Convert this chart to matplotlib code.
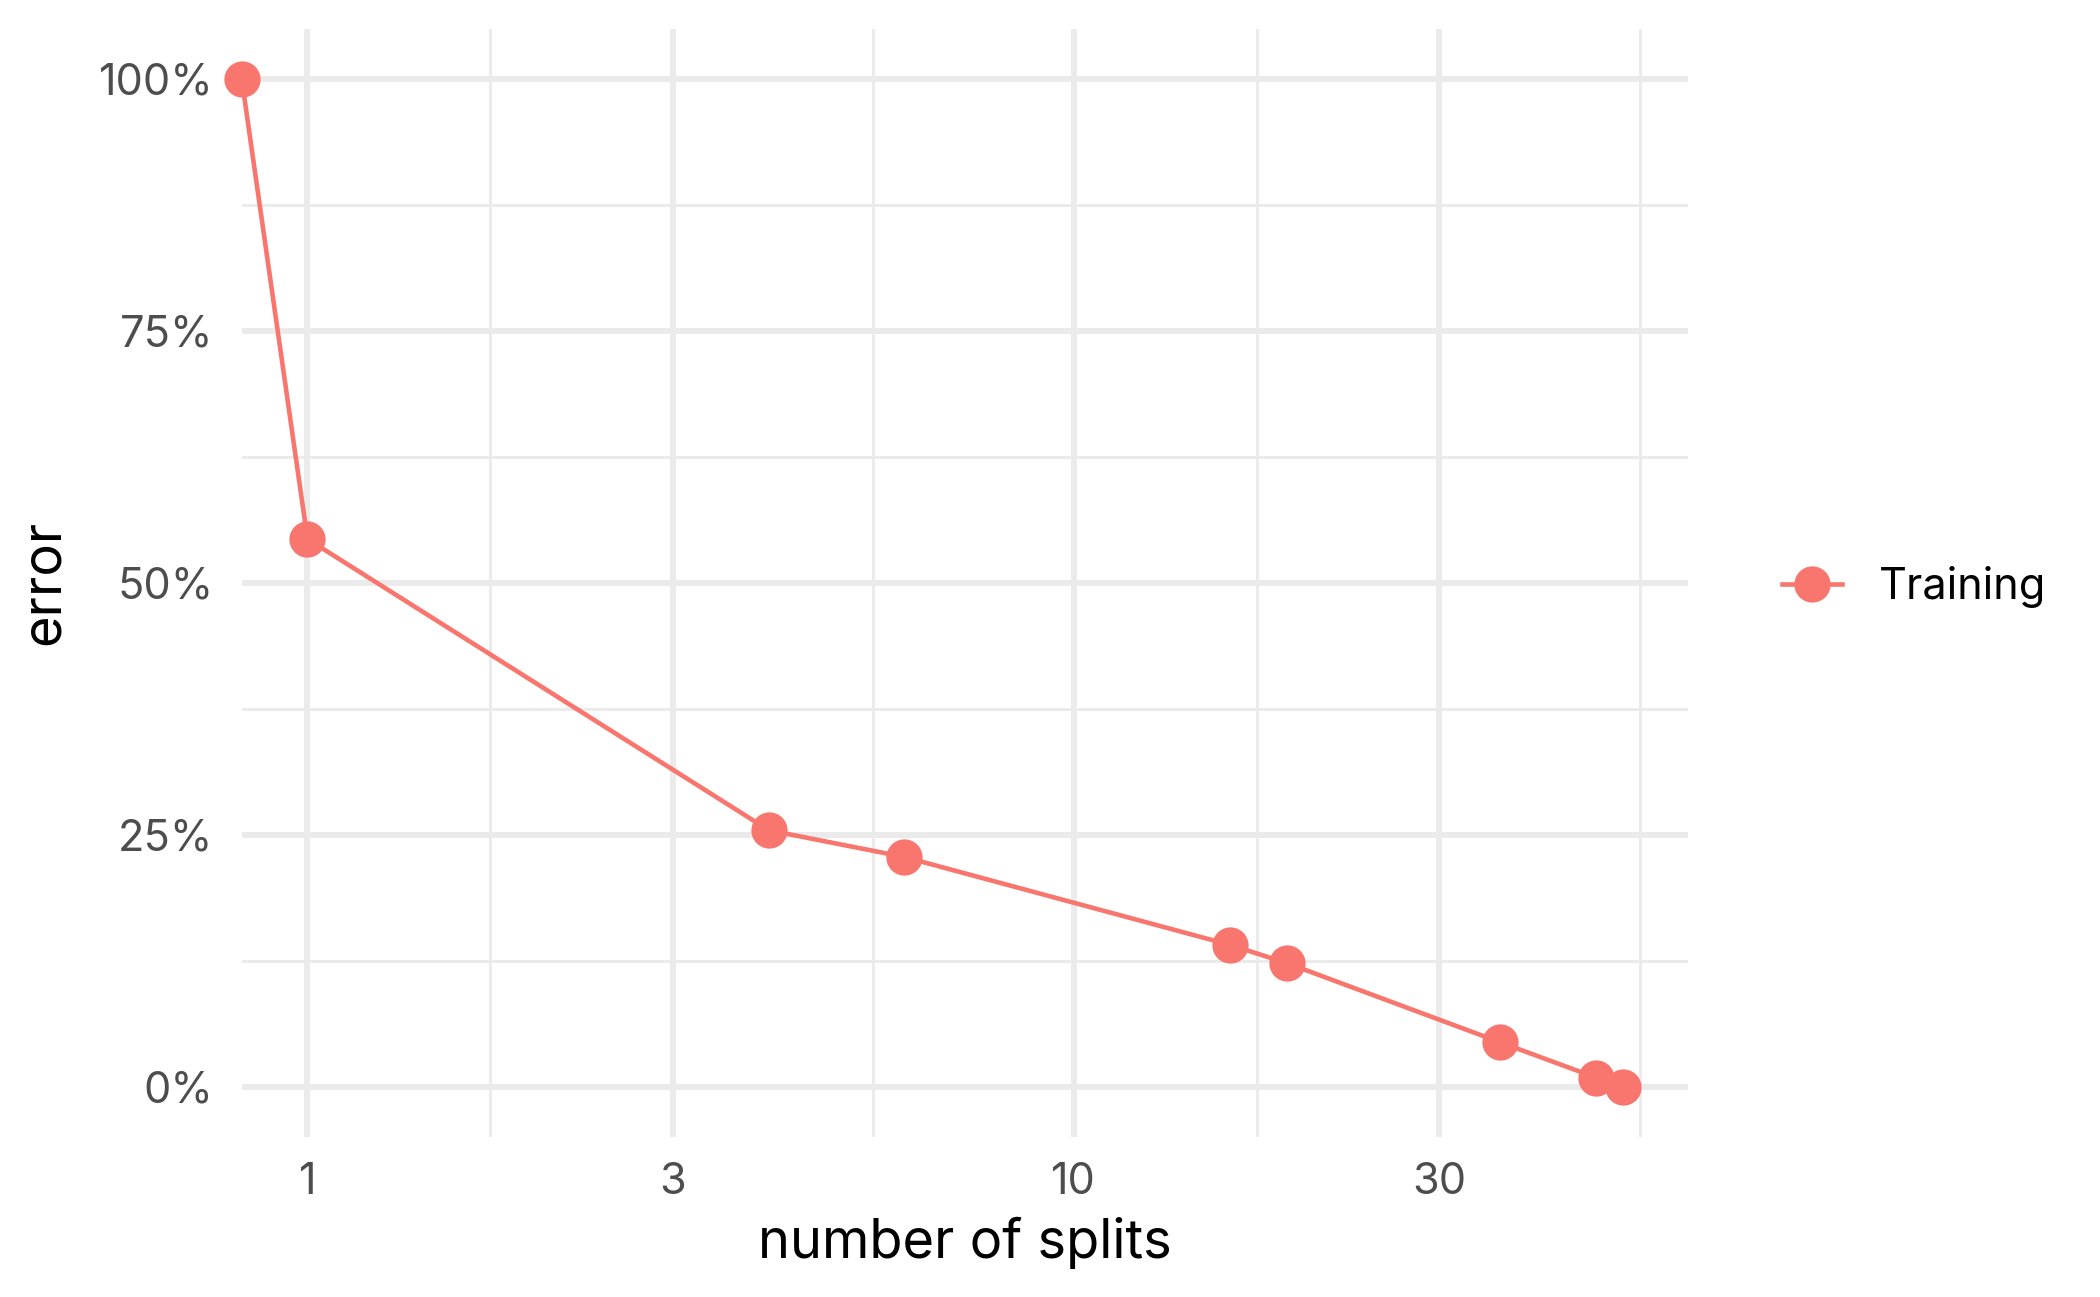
import numpy as np
import matplotlib
matplotlib.use("Agg")
import matplotlib.pyplot as plt
from matplotlib.ticker import FixedLocator, FixedFormatter, NullFormatter

plt.rcParams['font.family'] = ['Inter', 'DejaVu Sans']

# ---- data ----
n_splits = [0, 1, 4, 6, 16, 19, 36, 48, 52]
error = [1.0, 0.5435, 0.2544, 0.228, 0.1406, 0.1224, 0.044, 0.009, 0.0]
series_name = "Training"
x_breaks = [1, 3, 10, 30]
x_labels = ["1", "3", "10", "30"]
y_breaks = [0, 0.25, 0.5, 0.75, 1.0]
y_labels = ["0%", "25%", "50%", "75%", "100%"]

color = "#F8766D"
grid_col = "#EBEBEB"

fig = plt.figure(figsize=(7, 1297 / 300), dpi=300)
W, H = 2100, 1297
left, right, top, bottom = 241.7, 1688.3, 28.6, 1137.0
ax = fig.add_axes([left / W, 1 - bottom / H, (right - left) / W, (bottom - top) / H])

# log x scale with ggplot-style 5% expansion; zeros (-Inf) squished to panel edge
xpos = np.array(n_splits, dtype=float)
lg = np.log10(xpos[xpos > 0])
span = lg.max() - lg.min()
lo, hi = lg.min() - 0.05 * span, lg.max() + 0.05 * span
xplot = np.where(xpos > 0, xpos, 10 ** lo)

ax.set_xscale('log')
ax.set_xlim(10 ** lo, 10 ** hi)
ax.set_ylim(-0.05, 1.05)

# grid
major_x = x_breaks
minor_x = [np.sqrt(a * b) for a, b in zip([1, 3, 10, 30], [3, 10, 30, 100])]
minor_y = [0.125, 0.375, 0.625, 0.875]
for v in major_x:
    ax.axvline(v, color=grid_col, lw=1.44, zorder=0)
for v in minor_x:
    ax.axvline(v, color=grid_col, lw=0.72, zorder=0)
for v in y_breaks:
    ax.axhline(v, color=grid_col, lw=1.44, zorder=0)
for v in minor_y:
    ax.axhline(v, color=grid_col, lw=0.72, zorder=0)

ax.plot(xplot, error, color=color, lw=1.1, marker='o', ms=7.7, mec=color,
        mfc=color, label=series_name, zorder=3, clip_on=False)

ax.xaxis.set_major_locator(FixedLocator(x_breaks))
ax.xaxis.set_major_formatter(FixedFormatter(x_labels))
ax.xaxis.set_minor_locator(FixedLocator([]))
ax.xaxis.set_minor_formatter(NullFormatter())
ax.yaxis.set_major_locator(FixedLocator(y_breaks))
ax.yaxis.set_major_formatter(FixedFormatter(y_labels))

ax.tick_params(axis='both', which='both', length=0, labelsize=10.4, labelcolor='#4D4D4D')
ax.tick_params(axis='x', pad=6.0)
ax.tick_params(axis='y', pad=6.8)
for s in ax.spines.values():
    s.set_visible(False)

ax.set_xlabel("number of splits", fontsize=13, color='black')
ax.set_ylabel("error", fontsize=13, color='black')
ax.xaxis.set_label_coords(0.5, (bottom - 1217) / (bottom - top))
ax.yaxis.set_label_coords((70 - left) / (right - left), 0.5)

leg = fig.legend(loc='center left', bbox_to_anchor=(1782 / W, 1 - 587 / H),
                 frameon=False, fontsize=10.4, handlelength=1.38,
                 handletextpad=0.85, borderpad=0, borderaxespad=0)

fig.savefig("out.png", dpi=300)
